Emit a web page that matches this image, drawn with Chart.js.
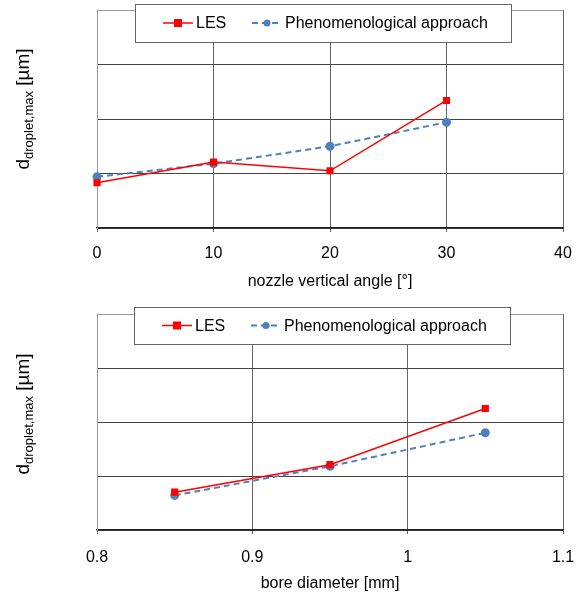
<!DOCTYPE html>
<html>
<head>
<meta charset="utf-8">
<script src="https://cdn.jsdelivr.net/npm/chart.js@4"></script>
<style>
  body { margin: 0; background: #fff; overflow: hidden; }
  .box { position: absolute; left: 0; width: 583px; }
</style>
</head>
<body>
<div class="box" style="top:0;height:300px"><canvas id="top"></canvas></div>
<div class="box" style="top:300px;height:298px"><canvas id="bottom"></canvas></div>
<script>
// top chart: nozzle vertical angle
const angles = [0, 10, 20, 30];
const lesAngle = [0.83, 1.21, 1.05, 2.34];
const phenoAngle = [0.94, 1.18, 1.50, 1.94];

// bottom chart: bore diameter
const bores = [0.85, 0.95, 1.05];
const lesBore = [0.70, 1.21, 2.25];
const phenoBore = [0.64, 1.18, 1.80];

const FONT = '"Liberation Sans", Arial, sans-serif';

// legend box drawn over the plot, like the original
const legendBox = {
  id: 'legendBox',
  afterDraw(chart, args, opts) {
    const c = chart.ctx;
    c.save();
    c.fillStyle = '#fff';
    c.strokeStyle = '#666';
    c.lineWidth = 1;
    c.fillRect(opts.x, opts.y, opts.w, opts.h);
    c.strokeRect(opts.x + 0.5, opts.y + 0.5, opts.w, opts.h);
    const cy = opts.y + opts.h / 2;
    c.font = '16px ' + FONT;
    c.textBaseline = 'middle';
    chart.data.datasets.forEach((ds, i) => {
      const sx = opts.items[i];
      c.strokeStyle = ds.borderColor;
      c.lineWidth = ds.borderWidth;
      c.setLineDash(ds.borderDash || []);
      c.beginPath();
      c.moveTo(sx, cy);
      c.lineTo(sx + 30, cy);
      c.stroke();
      c.setLineDash([]);
      c.fillStyle = ds.borderColor;
      if (ds.pointStyle === 'rect') {
        c.fillRect(sx + 11, cy - 4, 8, 8);
      } else {
        c.beginPath();
        c.arc(sx + 15, cy, 3.5, 0, Math.PI * 2);
        c.fill();
      }
      c.fillStyle = '#000';
      c.fillText(ds.label, sx + 33, cy + 1);
    });
    c.restore();
  }
};

// y title with subscript
const yTitle = {
  id: 'yTitle',
  afterDraw(chart, args, opts) {
    const c = chart.ctx;
    c.save();
    const big = '19px ' + FONT, small = '13px ' + FONT;
    c.font = big; const w1 = c.measureText('d').width;
    c.font = small; const w2 = c.measureText('droplet,max').width;
    c.font = big; const w3 = c.measureText(' [µm]').width;
    const total = w1 + w2 + w3;
    c.translate(opts.x, opts.y);
    c.rotate(-Math.PI / 2);
    c.fillStyle = '#000';
    c.textBaseline = 'alphabetic';
    let x = -total / 2;
    c.font = big; c.fillText('d', x, 7); x += w1;
    c.font = small; c.fillText('droplet,max', x, 11); x += w2;
    c.font = big; c.fillText(' [µm]', x, 7);
    c.restore();
  }
};

function makeChart(id, xs, les, pheno, xOpts, titleText, plotTop, xHeight, legend, ty, tickPad, titlePadBottom) {
  return new Chart(document.getElementById(id), {
    type: 'line',
    data: {
      datasets: [
        {
          label: 'LES',
          data: xs.map((x, i) => ({ x: x, y: les[i] })),
          borderColor: '#ff0000',
          backgroundColor: '#ff0000',
          borderWidth: 1.5,
          pointStyle: 'rect',
          pointRadius: 4,
          pointHoverRadius: 4,
          clip: false,
        },
        {
          label: 'Phenomenological approach',
          data: xs.map((x, i) => ({ x: x, y: pheno[i] })),
          borderColor: '#4f81bd',
          backgroundColor: '#4f81bd',
          borderWidth: 2,
          borderDash: [6, 4],
          pointStyle: 'circle',
          pointRadius: 3.5,
          pointHoverRadius: 3.5,
          clip: false,
        }
      ]
    },
    options: {
      responsive: true,
      maintainAspectRatio: false,
      animation: false,
      events: [],
      layout: { padding: { top: plotTop, right: 20, left: 0, bottom: 0 } },
      plugins: {
        legend: { display: false },
        tooltip: { enabled: false },
        legendBox: legend,
        yTitle: { x: 22, y: ty },
      },
      scales: {
        x: Object.assign({
          type: 'linear',
          grid: { color: '#666', tickLength: 4 },
          border: { color: '#222', width: 1.5 },
          title: {
            display: true, text: titleText, color: '#000',
            font: { family: FONT, size: 16 }, padding: { top: 4, bottom: titlePadBottom }
          },
          afterFit: s => {
            s.height = xHeight;
            s.paddingLeft = 0;
            s.paddingRight = 0;
          }
        }, xOpts, {
          ticks: Object.assign({ color: '#000', font: { family: FONT, size: 16 }, padding: tickPad }, xOpts.ticks)
        }),
        y: {
          min: 0, max: 4,
          ticks: { display: false, stepSize: 1 },
          grid: {
            drawTicks: false,
            color: ctx => ctx.tick && ctx.tick.value === 4 ? '#999' : '#444'
          },
          border: { color: '#999' },
          afterFit: s => { s.width = 97; }
        }
      }
    },
    plugins: [legendBox, yTitle]
  });
}

makeChart('top', angles, lesAngle, phenoAngle,
  { min: 0, max: 40, ticks: { stepSize: 10 } },
  'nozzle vertical angle [°]', 10, 72,
  { x: 135, y: 4, w: 376, h: 38, items: [163, 252] }, 109, 12, 9);

makeChart('bottom', bores, lesBore, phenoBore,
  { min: 0.8, max: 1.1, ticks: { stepSize: 0.1, callback: v => Math.round(v * 10) / 10 } },
  'bore diameter [mm]', 14, 68,
  { x: 134, y: 7, w: 376, h: 37, items: [162, 251] }, 114, 14, 5);
</script>
</body>
</html>
